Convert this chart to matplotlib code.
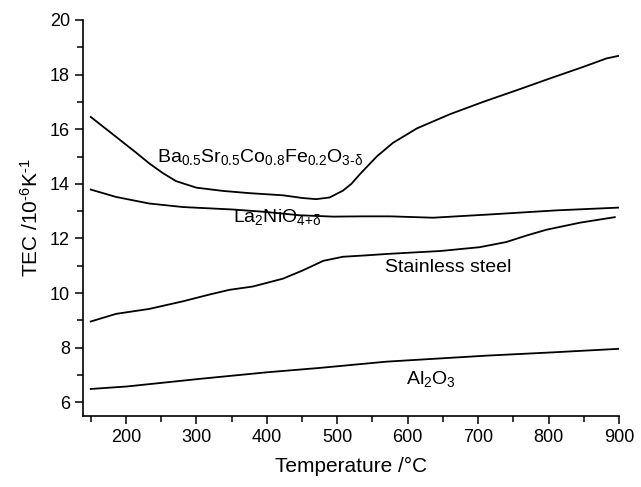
import matplotlib
matplotlib.use("Agg")
import matplotlib.pyplot as plt
from matplotlib.ticker import MultipleLocator

plt.rcParams['font.family'] = ['Liberation Sans', 'DejaVu Sans']
plt.rcParams['mathtext.fontset'] = 'custom'
plt.rcParams['mathtext.rm'] = 'Liberation Sans'
plt.rcParams['mathtext.it'] = 'Liberation Sans'
plt.rcParams['mathtext.default'] = 'regular'

# curves (temperature in C, TEC in 1e-6/K)
bscf_t = [150, 186, 214, 233, 252, 271, 300, 338, 375, 423, 451, 470, 489, 508,
          520, 532, 556, 579, 613, 660, 707, 755, 802, 849, 882, 900]
bscf_tec = [16.45, 15.72, 15.15, 14.75, 14.4, 14.1, 13.86, 13.74, 13.66, 13.58, 13.48, 13.44, 13.5, 13.75,
            14.0, 14.35, 15.0, 15.5, 16.03, 16.55, 17.0, 17.43, 17.86, 18.28, 18.59, 18.69]

lno_t = [150, 186, 233, 281, 352, 399, 446, 494, 536, 575, 636, 717, 812, 900]
lno_tec = [13.79, 13.52, 13.28, 13.15, 13.06, 12.97, 12.85, 12.8, 12.81, 12.81, 12.76, 12.88, 13.03, 13.13]

ss_t = [150, 186, 233, 281, 319, 347, 380, 423, 451, 480, 508, 540, 575, 646, 702,
        740, 769, 797, 845, 894]
ss_tec = [8.96, 9.24, 9.42, 9.7, 9.95, 10.12, 10.24, 10.53, 10.83, 11.18, 11.33, 11.38, 11.44, 11.54, 11.68,
          11.87, 12.11, 12.32, 12.58, 12.78]

al_t = [150, 201, 305, 400, 475, 570, 712, 806, 900]
al_tec = [6.49, 6.58, 6.86, 7.1, 7.26, 7.49, 7.71, 7.83, 7.96]

fig = plt.figure(figsize=(6.41, 4.87), dpi=100)
ax = fig.add_axes([0.1295, 0.1458, 0.8362, 0.8132])

for t, v in [(bscf_t, bscf_tec), (lno_t, lno_tec), (ss_t, ss_tec), (al_t, al_tec)]:
    ax.plot(t, v, color='black', lw=1.3, solid_joinstyle='round')

ax.text(244, 14.97, r'Ba$_{0.5}$Sr$_{0.5}$Co$_{0.8}$Fe$_{0.2}$O$_{3\text{-}\delta}$', fontsize=14, va='center')
ax.text(352, 12.77, r'La$_2$NiO$_{4\text{+}\delta}$', fontsize=14, va='center')
ax.text(568, 10.94, 'Stainless steel', fontsize=14, va='center')
ax.text(597, 6.87, r'Al$_2$O$_3$', fontsize=14, va='center')

ax.set_xlim(139, 900)
ax.set_ylim(5.5, 20)
ax.xaxis.set_major_locator(MultipleLocator(100))
ax.xaxis.set_minor_locator(MultipleLocator(50))
ax.yaxis.set_major_locator(MultipleLocator(2))
ax.yaxis.set_minor_locator(MultipleLocator(1))
ax.spines['top'].set_visible(False)
ax.spines['right'].set_visible(False)
for s in ['left', 'bottom']:
    ax.spines[s].set_linewidth(1.2)
ax.tick_params(which='major', direction='out', length=6, width=1.1, labelsize=13)
ax.tick_params(which='minor', direction='out', length=4, width=1.1)

ax.set_xlabel('Temperature /°C', fontsize=15, labelpad=8)
ax.set_ylabel(r'TEC /10$^{\text{-}6}$K$^{\text{-}1}$', fontsize=15, labelpad=6)

fig.savefig('out.png', dpi=100)
